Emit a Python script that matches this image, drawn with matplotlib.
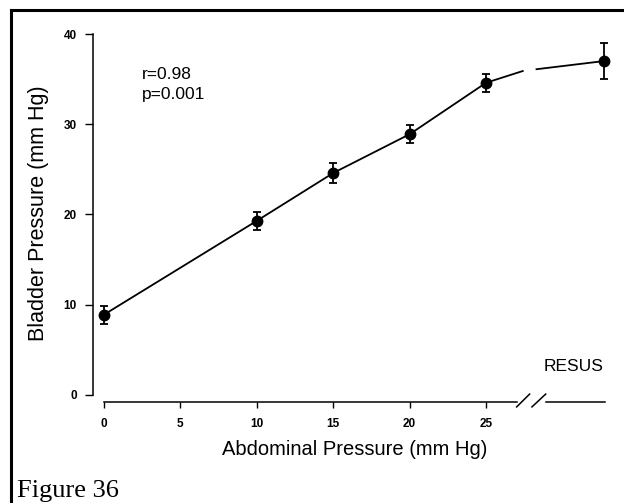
import numpy as np
import matplotlib
matplotlib.use("Agg")
import matplotlib.pyplot as plt
from matplotlib.lines import Line2D

# Bladder vs abdominal pressure
abd_mmhg = [0, 10, 15, 20, 25]
bladder_mmhg = [8.9, 19.3, 24.6, 28.9, 34.6]
bladder_err = [1.0, 1.0, 1.1, 1.0, 1.0]

# resuscitation point, drawn to the right of the axis break
resus_x = 32.7
resus_y = 37.0
resus_err = 2.0

# line either side of the break
gap_x = [27.4, 28.3]
gap_y = [35.9, 36.1]

xticks = [0, 5, 10, 15, 20, 25]
yticks = [0, 10, 20, 30, 40]

W, H = 624, 503
fig = plt.figure(figsize=(W / 100, H / 100), dpi=100)
fig.patch.set_facecolor('white')

# axes placed in pixels: left, bottom, right, top
l, b, r, t = 93.3, 402, 616, 25
ax = fig.add_axes([l / W, 1 - b / H, (r - l) / W, (b - t) / H])
ax.set_xlim(-0.7, 33.5)
ax.set_ylim(-0.78, 41)

line_x = abd_mmhg + [gap_x[0], np.nan, gap_x[1], resus_x]
line_y = bladder_mmhg + [gap_y[0], np.nan, gap_y[1], resus_y]
ax.plot(line_x, line_y, color='black', lw=1.3, zorder=2)

ax.errorbar(abd_mmhg + [resus_x], bladder_mmhg + [resus_y],
            yerr=bladder_err + [resus_err], fmt='o', color='black',
            ms=7.5, elinewidth=1.3, capsize=2.6, capthick=1.3, zorder=3)

# spines
for s in ['top', 'right']:
    ax.spines[s].set_visible(False)
ax.spines['left'].set_bounds(0, 40)
ax.spines['bottom'].set_bounds(0, 27.0)
ax.spines['left'].set_linewidth(1.1)
ax.spines['bottom'].set_linewidth(1.1)

# right piece of the x axis and the break marks
xt = ax.get_xaxis_transform()
ax.plot([28.9, 32.8], [0, 0], transform=xt, color='black', lw=1.1, clip_on=False)
ax.plot([27.0, 27.85], [-0.013, 0.021], transform=xt, color='black', lw=1.1, clip_on=False)
ax.plot([28.0, 28.9], [-0.013, 0.021], transform=xt, color='black', lw=1.1, clip_on=False)

ax.set_xticks(xticks)
ax.set_yticks(yticks)
ax.tick_params(axis='y', direction='out', length=6, width=1.0, pad=6,
               labelsize=8.5)
ax.tick_params(axis='x', direction='out', length=4.5, width=1.0, pad=7,
               labelsize=8.5)
for lab in ax.get_xticklabels() + ax.get_yticklabels():
    lab.set_fontweight('bold')
    lab.set_family('Liberation Sans')

ax.set_xlabel('Abdominal Pressure (mm Hg)', fontsize=14.5,
              family='Liberation Sans', labelpad=7)
ax.set_ylabel('Bladder Pressure (mm Hg)', fontsize=15.5,
              family='Liberation Sans', labelpad=10)

ax.text(2.5, 35.5, 'r=0.98', fontsize=12.5, family='Liberation Sans',
        va='center', ha='left')
ax.text(2.5, 33.3, 'p=0.001', fontsize=12.5, family='Liberation Sans',
        va='center', ha='left')
ax.text(32.66, 3.1, 'RESUS', fontsize=12.5, family='Liberation Sans',
        va='center', ha='right')

# page frame (top and left edges visible)
fig.add_artist(Line2D([10.5 / W, 1.0], [1 - 9.5 / H, 1 - 9.5 / H],
                      color='black', lw=2.2))
fig.add_artist(Line2D([10.5 / W, 10.5 / W], [0, 1 - 9.5 / H],
                      color='black', lw=2.2))

fig.text(17 / W, 1 - 497 / H, 'Figure 36', fontsize=19,
         family='Liberation Serif', ha='left', va='baseline')

fig.savefig('out.png', dpi=100)
